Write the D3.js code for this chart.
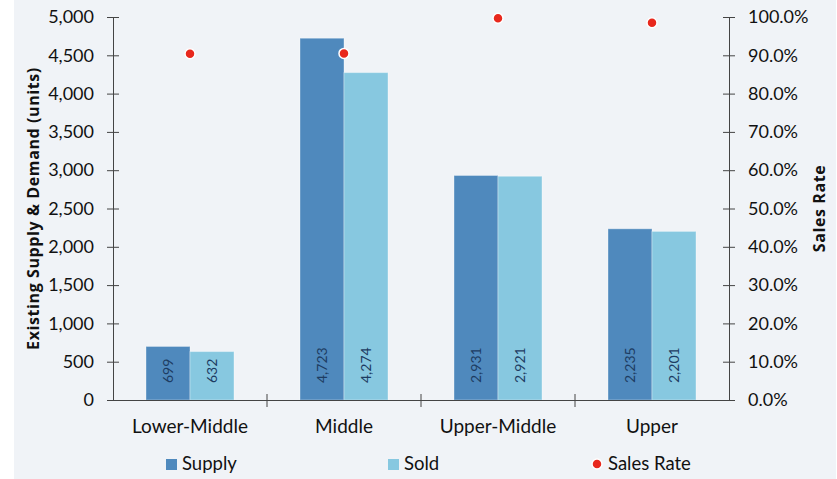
<!DOCTYPE html>
<html>
<head>
<meta charset="utf-8">
<script src="https://cdn.jsdelivr.net/npm/d3@7"></script>
<style>
  html, body { margin: 0; padding: 0; background: #ffffff; }
  svg { display: block; font-family: Lato, "Open Sans", sans-serif; }
</style>
</head>
<body>
<svg id="chart" width="837" height="479"></svg>
<script>
// Segments and their existing supply / sold units
const categories = ["Lower-Middle", "Middle", "Upper-Middle", "Upper"];
const supply = [699, 4723, 2931, 2235];
const sold = [632, 4274, 2921, 2201];
// Sales rate = sold / supply, in percent
const salesRate = [90.4, 90.5, 99.7, 98.5];
const leftTicks = [0, 500, 1000, 1500, 2000, 2500, 3000, 3500, 4000, 4500, 5000];
const rightTicks = [0, 10, 20, 30, 40, 50, 60, 70, 80, 90, 100];

const svg = d3.select("#chart");
const W = 837, H = 479;
const m = { left: 113, right: 729, top: 17, bottom: 400 };

const colors = { supply: "#4f89bd", sold: "#87c8e0", rate: "#e8281d", label: "#1d3c62" };

// panel background
svg.append("rect").attr("x", 14).attr("y", 0).attr("width", W - 15).attr("height", H)
  .attr("fill", "#f0f3f7");

const x = d3.scaleBand().domain(categories).range([m.left, m.right]).paddingInner(0).paddingOuter(0);
const inner = d3.scaleBand().domain(["supply", "sold"]).range([0, x.bandwidth()])
  .paddingInner(0).paddingOuter(0.75);
const yL = d3.scaleLinear().domain([0, 5000]).range([m.bottom, m.top]);
const yR = d3.scaleLinear().domain([0, 100]).range([m.bottom, m.top]);

const fmt = d3.format(",");

// bars
const series = [
  { key: "supply", values: supply, color: colors.supply },
  { key: "sold", values: sold, color: colors.sold }
];
series.forEach(s => {
  const g = svg.append("g");
  g.selectAll("rect").data(s.values).join("rect")
    .attr("x", (d, i) => x(categories[i]) + inner(s.key))
    .attr("y", d => yL(d))
    .attr("width", inner.bandwidth())
    .attr("height", d => yL(0) - yL(d))
    .attr("fill", s.color)
    .attr("stroke", "#ffffff").attr("stroke-opacity", 0.35).attr("stroke-width", 1);
  g.selectAll("text").data(s.values).join("text")
    .attr("transform", (d, i) => {
      const cx = x(categories[i]) + inner(s.key) + inner.bandwidth() / 2;
      return `translate(${cx + 5},${yL(0) - 17}) rotate(-90)`;
    })
    .attr("text-anchor", "start")
    .attr("font-size", 14)
    .attr("fill", colors.label)
    .text(d => fmt(d));
});

// axes
const axisColor = "#444";
const gL = svg.append("g").attr("transform", `translate(${m.left},0)`)
  .call(d3.axisLeft(yL).tickValues(leftTicks).tickFormat(fmt).tickSizeInner(6).tickSizeOuter(0));
gL.selectAll(".tick line").attr("x1", 6).attr("x2", -6);
const gR = svg.append("g").attr("transform", `translate(${m.right},0)`)
  .call(d3.axisRight(yR).tickValues(rightTicks).tickFormat(d => d.toFixed(1) + "%").tickSizeInner(6).tickSizeOuter(0));
gR.selectAll(".tick line").attr("x1", -6).attr("x2", 6);
const gX = svg.append("g").attr("transform", `translate(0,${m.bottom})`)
  .call(d3.axisBottom(x).tickSize(0).tickSizeOuter(0));
// category separator ticks
svg.append("g").selectAll("line").data(categories.slice(1)).join("line")
  .attr("x1", d => x(d)).attr("x2", d => x(d))
  .attr("y1", m.bottom - 6).attr("y2", m.bottom + 7)
  .attr("stroke", axisColor);

[gL, gR, gX].forEach(g => {
  g.selectAll(".domain").attr("stroke", axisColor).attr("stroke-width", 1);
  g.selectAll(".tick line").attr("stroke", axisColor);
  g.selectAll(".tick text").attr("font-size", 18).attr("fill", "#111")
    .attr("font-family", "Lato, sans-serif");
});
gL.selectAll(".tick text").attr("x", -19);
gR.selectAll(".tick text").attr("x", 19);
gX.selectAll(".tick text").attr("font-size", 19).attr("y", 33).attr("dy", 0);

// sales rate points
svg.append("g").selectAll("circle").data(salesRate).join("circle")
  .attr("cx", (d, i) => x(categories[i]) + x.bandwidth() / 2)
  .attr("cy", d => yR(d))
  .attr("r", 5)
  .attr("fill", colors.rate)
  .attr("stroke", "#ffffff").attr("stroke-width", 1.5);

// axis titles
svg.append("text")
  .attr("transform", `translate(39,${(m.top + m.bottom) / 2}) rotate(-90)`)
  .attr("text-anchor", "middle").attr("font-weight", "bold").attr("font-size", 16)
  .attr("letter-spacing", 0.6)
  .attr("font-family", "'Open Sans', sans-serif")
  .attr("fill", "#111").text("Existing Supply & Demand (units)");
svg.append("text")
  .attr("transform", `translate(825,${(m.top + m.bottom) / 2}) rotate(-90)`)
  .attr("text-anchor", "middle").attr("font-weight", "bold").attr("font-size", 16)
  .attr("letter-spacing", 0.6)
  .attr("font-family", "'Open Sans', sans-serif")
  .attr("fill", "#111").text("Sales Rate");

// legend
const legend = svg.append("g").attr("font-size", 18.5).attr("fill", "#111");
const legItems = [
  { label: "Supply", x: 166, type: "rect", color: colors.supply },
  { label: "Sold", x: 388, type: "rect", color: colors.sold },
  { label: "Sales Rate", x: 592, type: "dot", color: colors.rate }
];
legItems.forEach(it => {
  if (it.type === "rect") {
    legend.append("rect").attr("x", it.x).attr("y", 459).attr("width", 11).attr("height", 11)
      .attr("fill", it.color);
  } else {
    legend.append("circle").attr("cx", it.x + 5).attr("cy", 464).attr("r", 5)
      .attr("fill", it.color).attr("stroke", "#fff").attr("stroke-width", 1.5);
  }
  legend.append("text").attr("x", it.x + 16).attr("y", 470).text(it.label);
});
</script>
</body>
</html>
